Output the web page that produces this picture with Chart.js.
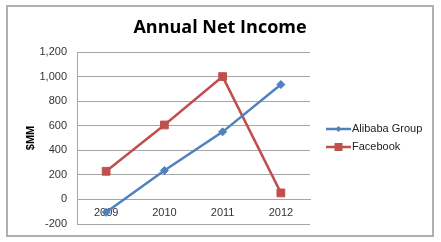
<!DOCTYPE html>
<html>
<head>
<meta charset="utf-8">
<script src="https://cdn.jsdelivr.net/npm/chart.js@4/dist/chart.umd.min.js"></script>
<style>
  html, body { margin: 0; padding: 0; background: #fff; }
  #wrap { width: 441px; height: 242px; }
</style>
</head>
<body>
<div id="wrap"><canvas id="myChart" width="441" height="242"></canvas></div>
<script>
const chartTitle = "Annual Net Income";
const years = ["2009", "2010", "2011", "2012"];
const alibaba = [-105, 235, 550, 935];
const facebook = [229, 606, 1000, 53];
const yTicks = [-200, 0, 200, 400, 600, 800, 1000, 1200];

const blue = "#4F81BD";
const red = "#C0504D";

// frame around the whole chart + the title, centred on the full canvas
const framePlugin = {
  id: "frame",
  beforeDraw(chart) {
    const ctx = chart.ctx;
    ctx.save();
    ctx.fillStyle = "#fff";
    ctx.fillRect(0, 0, chart.width, chart.height);
    ctx.strokeStyle = "#b0b0b0";
    ctx.lineWidth = 2;
    ctx.strokeRect(7, 6, 426, 230);
    ctx.fillStyle = "#000";
    ctx.font = "bold 18px 'Open Sans', sans-serif";
    ctx.textAlign = "center";
    ctx.textBaseline = "middle";
    ctx.fillText(chartTitle, 220, 28);
    ctx.restore();
  },
};

// legend with line + marker samples
const legendPlugin = {
  id: "lineLegend",
  afterDraw(chart) {
    const ctx = chart.ctx;
    ctx.save();
    ctx.font = "11px 'Liberation Sans', Arial, sans-serif";
    ctx.textBaseline = "middle";
    chart.data.datasets.forEach((ds, i) => {
      const y = 129 + i * 18;
      ctx.strokeStyle = ds.borderColor;
      ctx.lineWidth = 2.5;
      ctx.beginPath();
      ctx.moveTo(326, y);
      ctx.lineTo(351, y);
      ctx.stroke();
      ctx.fillStyle = ds.backgroundColor;
      if (ds.pointStyle === "rect") {
        ctx.fillRect(334.5, y - 4, 8, 8);
      } else {
        ctx.beginPath();
        ctx.moveTo(338.5, y - 3);
        ctx.lineTo(341.5, y);
        ctx.lineTo(338.5, y + 3);
        ctx.lineTo(335.5, y);
        ctx.closePath();
        ctx.fill();
      }
      ctx.fillStyle = "#222";
      ctx.fillText(ds.label, 352, y);
    });
    ctx.restore();
  },
};

const ctx = document.getElementById("myChart").getContext("2d");

const myChart = new Chart(ctx, {
  type: "line",
  data: {
    labels: years,
    datasets: [
      {
        label: "Alibaba Group",
        data: alibaba,
        borderColor: blue,
        backgroundColor: blue,
        borderWidth: 2.5,
        pointStyle: "rectRot",
        pointRadius: 4,
        pointBorderWidth: 1,
        tension: 0,
      },
      {
        label: "Facebook",
        data: facebook,
        borderColor: red,
        backgroundColor: red,
        borderWidth: 2.5,
        pointStyle: "rect",
        pointRadius: 5.5,
        pointBorderWidth: 1,
        tension: 0,
      },
    ],
  },
  options: {
    responsive: false,
    animation: false,
    events: [],
    layout: {
      padding: { left: 24, right: 131, top: 52, bottom: 18 },
    },
    plugins: {
      legend: { display: false },
      tooltip: { enabled: false },
      title: { display: false },
    },
    scales: {
      x: {
        type: "category",
        position: { y: 0 },
        offset: true,
        grid: { display: false, drawTicks: false },
        border: { display: true, color: "#a6a6a6", width: 1 },
        ticks: {
          color: "#333",
          padding: 7,
          font: { family: "'Liberation Sans', Arial, sans-serif", size: 11 },
        },
      },
      y: {
        min: -200,
        max: 1200,
        afterBuildTicks(scale) {
          scale.ticks = yTicks.map((v) => ({ value: v }));
        },
        afterFit(scale) {
          scale.width = 53;
        },
        grid: { color: "#a6a6a6", drawTicks: false },
        border: { display: true, color: "#a6a6a6" },
        ticks: {
          color: "#333",
          padding: 10,
          font: { family: "'Liberation Sans', Arial, sans-serif", size: 11 },
          callback: (v) => v.toLocaleString("en-US"),
        },
        title: {
          display: true,
          text: "$MM",
          color: "#000",
          padding: 0,
          font: { family: "'Liberation Sans', Arial, sans-serif", size: 11, weight: "bold" },
        },
      },
    },
  },
  plugins: [framePlugin, legendPlugin],
});
</script>
</body>
</html>
